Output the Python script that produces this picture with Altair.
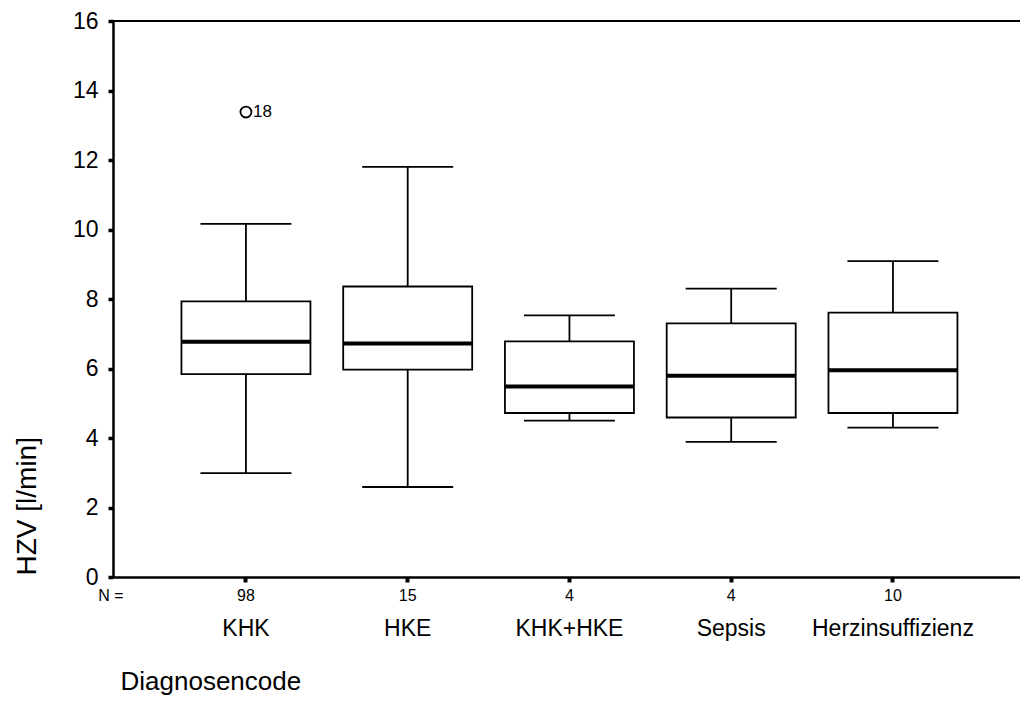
import altair as alt
import pandas as pd

categories = ["KHK", "HKE", "KHK+HKE", "Sepsis", "Herzinsuffizienz"]
n_values = [98, 15, 4, 4, 10]
whisker_low = [2.99, 2.59, 4.50, 3.89, 4.30]
q1_values = [5.84, 5.97, 4.72, 4.59, 4.72]
median_values = [6.77, 6.72, 5.48, 5.79, 5.95]
q3_values = [7.93, 8.36, 6.78, 7.30, 7.61]
whisker_high = [10.16, 11.80, 7.53, 8.30, 9.09]

outlier_cats = ["KHK"]
outlier_values = [13.38]
outlier_labels = ["18"]

FONT = "Liberation Sans"

df = pd.DataFrame({
    "cat": categories,
    "n": [str(v) for v in n_values],
    "lo": whisker_low,
    "q1": q1_values,
    "med": median_values,
    "q3": q3_values,
    "hi": whisker_high,
})
out_df = pd.DataFrame({"cat": outlier_cats, "v": outlier_values, "lab": outlier_labels})

W, H = 907, 556

xscale = alt.Scale(domain=categories, paddingInner=0, paddingOuter=0.3037, align=0.53)
yscale = alt.Scale(domain=[0, 16], nice=False)

x_enc = alt.X("cat:N", scale=xscale, sort=categories,
              axis=alt.Axis(title="Diagnosencode", labelAngle=0, labelFontSize=23,
                            labelFont=FONT, labelColor="black", labelPadding=53,
                            labelBaseline="alphabetic",
                            tickSize=5, tickWidth=4, tickColor="black",
                            domainColor="black", domainWidth=2.5,
                            titleFont=FONT, titleFontSize=26, titleFontWeight="normal",
                            titleColor="black", titleX=7, titleY=112,
                            titleAlign="left", titleBaseline="alphabetic",
                            grid=False))

y_axis = alt.Axis(title="HZV [l/min]", values=list(range(0, 17, 2)), labelFontSize=23,
                  labelFont=FONT, labelColor="black", labelPadding=10,
                  tickSize=5, tickWidth=3.5, tickColor="black",
                  domainColor="black", domainWidth=2.5,
                  titleFont=FONT, titleFontSize=28, titleFontWeight="normal",
                  titleColor="black", titleAngle=270, titleAlign="left",
                  titleBaseline="middle", titleX=-86, titleY=554, grid=False)

base = alt.Chart(df)

whisk_lo = base.mark_rule(color="black", strokeWidth=1.8).encode(
    x=x_enc, y=alt.Y("lo:Q", scale=yscale, axis=y_axis), y2="q1:Q")
whisk_hi = base.mark_rule(color="black", strokeWidth=1.8).encode(
    x="cat:N", y="q3:Q", y2="hi:Q")
cap_lo = base.mark_tick(color="black", size=91, thickness=1.8, orient="horizontal",
                        opacity=1).encode(x="cat:N", y="lo:Q")
cap_hi = base.mark_tick(color="black", size=91, thickness=1.8, orient="horizontal",
                        opacity=1).encode(x="cat:N", y="hi:Q")
box = base.mark_bar(size=129, fill="white", stroke="black", strokeWidth=1.8,
                    opacity=1).encode(x="cat:N", y="q1:Q", y2="q3:Q")
med = base.mark_tick(color="black", size=129, thickness=4, orient="horizontal",
                     opacity=1).encode(x="cat:N", y="med:Q")

n_text = base.mark_text(font=FONT, fontSize=16, baseline="alphabetic", align="center",
                        color="black").encode(x="cat:N", y=alt.value(580), text="n:N")
n_label = alt.Chart(pd.DataFrame({"t": ["N ="]})).mark_text(
    font=FONT, fontSize=16, baseline="alphabetic", align="center", color="black"
).encode(x=alt.value(-2), y=alt.value(580), text="t:N")

top_line = alt.Chart(pd.DataFrame({"y": [16]})).mark_rule(color="black", strokeWidth=2).encode(
    y="y:Q", x=alt.value(0), x2=alt.value(W))

out_pts = alt.Chart(out_df).mark_point(shape="circle", filled=False, size=120,
                                        color="black", strokeWidth=1.8, opacity=1).encode(
    x="cat:N", y="v:Q")
out_lab = alt.Chart(out_df).mark_text(font=FONT, fontSize=17, align="left", baseline="middle",
                                       dx=7, color="black").encode(
    x="cat:N", y="v:Q", text="lab:N")

chart = alt.layer(
    top_line, whisk_lo, whisk_hi, cap_lo, cap_hi, box, med, out_pts, out_lab, n_text, n_label
).properties(
    width=W, height=H,
    autosize=alt.AutoSizeParams(type="none"),
    padding={"left": 113, "top": 21, "right": 0, "bottom": 136},
    background="white",
).configure_view(stroke=None)

chart.save("out.html", embed_options={"renderer": "svg", "actions": False})
